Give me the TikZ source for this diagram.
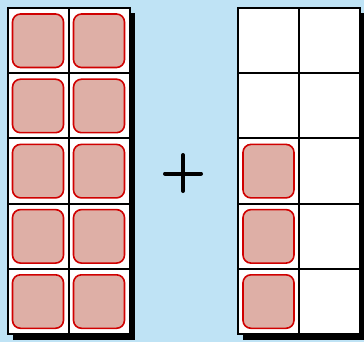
\documentclass[tikz,border=0pt]{standalone}
\definecolor{bgblue}{HTML}{BFE3F5}
\definecolor{ctrfill}{HTML}{DEAFA6}
\definecolor{ctrline}{HTML}{D00000}
\begin{document}
\begin{tikzpicture}[x=1pt,y=-1pt,
  framebox/.style={draw=black,line width=2pt,fill=white},
  shadowbox/.style={fill=black},
  counter/.style={draw=ctrline,fill=ctrfill,line width=1.6pt,rounded corners=8pt},
  gridline/.style={draw=black,line width=2pt}]
\fill[bgblue] (0,0) rectangle (364,342);
\useasboundingbox (0,0) rectangle (364,342);
% frames
\foreach \fx in {7.5,238} {
  \fill[shadowbox] (\fx+5,13) rectangle (\fx+127,340);
  \draw[framebox] (\fx,8) rectangle (\fx+122,334);
  \draw[gridline] (\fx+61,8) -- (\fx+61,334);
  \foreach \r in {1,2,3,4} \draw[gridline] (\fx,8+\r*65.2) -- (\fx+122,8+\r*65.2);
}
% left counters
\foreach \r in {0,...,4} \foreach \c in {0,1}
  \draw[counter] (7.5+\c*61+5,8+\r*65.2+6) rectangle (7.5+\c*61+56,8+\r*65.2+59.5);
% right counters
\foreach \r in {2,3,4}
  \draw[counter] (238+5,8+\r*65.2+6) rectangle (238+56,8+\r*65.2+59.5);
% plus
\draw[line width=4pt,line cap=round] (165,173.5) -- (201,173.5);
\draw[line width=4pt,line cap=round] (183,155) -- (183,191);
\end{tikzpicture}
\end{document}
